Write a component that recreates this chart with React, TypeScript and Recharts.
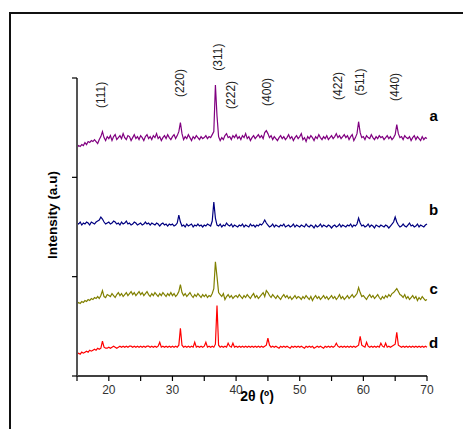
import React from 'react';
import { LineChart, Line, XAxis, YAxis, ReferenceDot } from 'recharts';

// 2θ grid (deg), 0.25 step
const twoTheta = [
  15, 15.25, 15.5, 15.75, 16, 16.25, 16.5, 16.75, 17, 17.25, 17.5, 17.75, 18, 18.25, 18.5, 18.75, 19, 19.25, 19.5, 19.75,
  20, 20.25, 20.5, 20.75, 21, 21.25, 21.5, 21.75, 22, 22.25, 22.5, 22.75, 23, 23.25, 23.5, 23.75, 24, 24.25, 24.5, 24.75,
  25, 25.25, 25.5, 25.75, 26, 26.25, 26.5, 26.75, 27, 27.25, 27.5, 27.75, 28, 28.25, 28.5, 28.75, 29, 29.25, 29.5, 29.75,
  30, 30.25, 30.5, 30.75, 31, 31.25, 31.5, 31.75, 32, 32.25, 32.5, 32.75, 33, 33.25, 33.5, 33.75, 34, 34.25, 34.5, 34.75,
  35, 35.25, 35.5, 35.75, 36, 36.25, 36.5, 36.75, 37, 37.25, 37.5, 37.75, 38, 38.25, 38.5, 38.75, 39, 39.25, 39.5, 39.75,
  40, 40.25, 40.5, 40.75, 41, 41.25, 41.5, 41.75, 42, 42.25, 42.5, 42.75, 43, 43.25, 43.5, 43.75, 44, 44.25, 44.5, 44.75,
  45, 45.25, 45.5, 45.75, 46, 46.25, 46.5, 46.75, 47, 47.25, 47.5, 47.75, 48, 48.25, 48.5, 48.75, 49, 49.25, 49.5, 49.75,
  50, 50.25, 50.5, 50.75, 51, 51.25, 51.5, 51.75, 52, 52.25, 52.5, 52.75, 53, 53.25, 53.5, 53.75, 54, 54.25, 54.5, 54.75,
  55, 55.25, 55.5, 55.75, 56, 56.25, 56.5, 56.75, 57, 57.25, 57.5, 57.75, 58, 58.25, 58.5, 58.75, 59, 59.25, 59.5, 59.75,
  60, 60.25, 60.5, 60.75, 61, 61.25, 61.5, 61.75, 62, 62.25, 62.5, 62.75, 63, 63.25, 63.5, 63.75, 64, 64.25, 64.5, 64.75,
  65, 65.25, 65.5, 65.75, 66, 66.25, 66.5, 66.75, 67, 67.25, 67.5, 67.75, 68, 68.25, 68.5, 68.75, 69, 69.25, 69.5, 69.75,
  70,
];

// stacked intensities (offset, arbitrary units)
const sampleA = [
  230, 232, 231, 233, 232, 235, 233, 236, 235, 237, 236, 238, 236, 234, 238, 241, 246, 240, 237, 241,
  239, 242, 237, 241, 243, 238, 240, 242, 239, 244, 240, 238, 242, 241, 237, 240, 243, 239, 241, 238,
  242, 240, 237, 241, 243, 239, 241, 238, 242, 240, 244, 239, 241, 237, 240, 242, 239, 243, 240, 238,
  241, 243, 239, 242, 246, 255, 244, 238, 241, 239, 243, 240, 237, 241, 239, 242, 240, 238, 241, 239,
  240, 242, 239, 241, 240, 243, 246, 293, 262, 241, 237, 240, 238, 242, 244, 240, 241, 238, 242, 240,
  243, 239, 241, 238, 242, 240, 244, 239, 241, 237, 240, 242, 239, 241, 243, 240, 242, 239, 245, 247,
  244, 240, 242, 238, 241, 239, 237, 240, 242, 239, 241, 238, 240, 243, 239, 241, 237, 240, 242, 239,
  241, 244, 238, 240, 236, 241, 239, 242, 240, 237, 241, 239, 243, 240, 238, 241, 239, 242, 238, 240,
  242, 239, 241, 244, 240, 242, 239, 241, 243, 240, 242, 238, 241, 243, 237, 240, 244, 256, 245, 240,
  241, 238, 242, 240, 239, 243, 240, 238, 241, 239, 242, 240, 241, 238, 240, 242, 239, 241, 238, 240,
  243, 253, 244, 240, 241, 238, 242, 240, 239, 241, 237, 240, 242, 238, 241, 239, 237, 241, 238, 240,
  239,
];

const sampleB = [
  154, 153, 155, 152, 154, 153, 155, 154, 152, 155, 154, 153, 155, 156, 157, 160, 158, 155, 153, 154,
  155, 153, 154, 156, 155, 153, 154, 152, 155, 153, 154, 156, 153, 154, 152, 153, 155, 154, 152, 153,
  154, 152, 153, 155, 153, 154, 152, 154, 153, 152, 154, 153, 151, 153, 154, 152, 153, 151, 153, 152,
  153, 151, 152, 154, 162, 155, 151, 152, 150, 153, 151, 152, 153, 150, 152, 151, 153, 151, 152, 150,
  152, 151, 153, 152, 151, 156, 175, 159, 152, 151, 153, 150, 152, 151, 154, 152, 151, 153, 150, 152,
  151, 150, 152, 151, 153, 150, 152, 151, 150, 153, 151, 152, 150, 152, 151, 153, 152, 154, 157, 154,
  152, 150, 151, 153, 150, 152, 151, 150, 152, 151, 153, 150, 151, 152, 150, 151, 153, 150, 152, 151,
  150, 152, 151, 150, 153, 151, 150, 152, 151, 149, 152, 150, 151, 153, 150, 152, 151, 150, 152, 151,
  149, 151, 152, 150, 151, 153, 150, 152, 151, 150, 152, 151, 153, 150, 152, 151, 153, 159, 154, 151,
  152, 150, 151, 153, 150, 152, 151, 149, 152, 151, 150, 152, 151, 150, 152, 151, 149, 151, 153, 155,
  160, 155, 152, 150, 151, 153, 151, 150, 152, 154, 151, 152, 150, 151, 153, 150, 152, 151, 150, 152,
  153,
];

const sampleC = [
  72, 74, 73, 75, 74, 76, 75, 77, 76, 78, 77, 79, 78, 80, 78, 81, 86, 80, 79, 82,
  81, 80, 83, 81, 79, 82, 84, 81, 83, 80, 82, 84, 81, 83, 85, 82, 84, 81, 83, 85,
  82, 84, 81, 83, 85, 82, 80, 83, 81, 84, 82, 80, 83, 81, 84, 82, 80, 83, 81, 84,
  81, 83, 80, 82, 85, 92, 84, 81, 83, 80, 82, 84, 81, 79, 82, 80, 83, 81, 79, 82,
  80, 82, 79, 81, 80, 83, 88, 115, 100, 84, 82, 80, 83, 77, 80, 82, 79, 81, 78, 80,
  81, 79, 82, 80, 78, 81, 79, 82, 80, 78, 81, 83, 79, 81, 78, 80, 82, 84, 80, 86,
  84, 81, 79, 82, 80, 78, 81, 79, 77, 80, 82, 79, 81, 78, 80, 77, 79, 81, 78, 80,
  79, 77, 80, 78, 81, 79, 77, 80, 76, 79, 81, 78, 80, 77, 79, 81, 78, 80, 77, 79,
  81, 78, 80, 77, 79, 82, 78, 80, 77, 79, 81, 78, 80, 82, 79, 81, 83, 89, 84, 80,
  81, 79, 77, 80, 82, 79, 81, 78, 80, 82, 79, 77, 80, 78, 81, 79, 82, 80, 83, 84,
  86, 88, 85, 82, 81, 79, 82, 78, 80, 77, 79, 81, 78, 80, 76, 79, 77, 80, 78, 76,
  77,
];

const sampleD = [
  22, 23, 22, 24, 23, 24, 25, 24, 26, 25, 26, 27, 26, 28, 27, 28, 35, 29, 28, 28,
  29, 28, 29, 30, 29, 28, 29, 30, 29, 30, 29, 30, 29, 30, 30, 29, 30, 29, 30, 29,
  30, 29, 30, 29, 30, 30, 29, 30, 29, 30, 29, 30, 34, 29, 30, 29, 30, 29, 30, 29,
  30, 29, 30, 29, 31, 48, 31, 29, 30, 29, 30, 29, 30, 29, 34, 29, 30, 29, 30, 29,
  30, 34, 29, 30, 29, 30, 29, 32, 71, 31, 29, 30, 29, 30, 29, 33, 30, 29, 33, 29,
  30, 29, 30, 29, 30, 29, 30, 29, 30, 29, 30, 29, 30, 29, 30, 29, 30, 29, 30, 31,
  38, 31, 29, 30, 29, 30, 29, 28, 30, 29, 30, 29, 30, 29, 28, 30, 29, 30, 29, 30,
  29, 30, 29, 28, 30, 29, 30, 29, 30, 28, 29, 30, 29, 30, 29, 28, 30, 29, 30, 29,
  30, 29, 30, 33, 30, 29, 30, 29, 30, 29, 30, 29, 30, 29, 30, 29, 30, 31, 40, 31,
  30, 29, 34, 30, 29, 30, 29, 30, 29, 30, 29, 33, 30, 29, 33, 29, 30, 29, 30, 31,
  32, 44, 31, 30, 29, 30, 29, 30, 29, 30, 29, 30, 29, 30, 29, 30, 29, 30, 29, 30,
  29,
];

// hkl labels above the peaks
const peakNames = ['(111)', '(220)', '(311)', '(222)', '(400)', '(422)', '(511)', '(440)'];
const peakNameX = [18.8, 31.2, 37.2, 39.2, 44.8, 56.0, 59.4, 64.9];
const peakNameY = [283, 295, 321, 283, 286, 292, 296, 291];

// trace letters at the right
const traceNames = ['a', 'b', 'c', 'd'];
const traceNameY = [262, 168, 88, 34];

const xTicks = [15, 20, 25, 30, 35, 40, 45, 50, 55, 60, 65, 70];
const yTicks = [0, 100, 200, 300];

const data = twoTheta.map((x, i) => ({
  x,
  a: sampleA[i],
  b: sampleB[i],
  c: sampleC[i],
  d: sampleD[i],
}));

const font = 'Arial, "Liberation Sans", sans-serif';

export default function App() {
  return (
    <div style={{ position: 'fixed', left: 0, top: 0, width: 463, height: 429, overflow: 'hidden', background: '#fff' }}>
      {/* frame, cropped on the right and bottom */}
      <div style={{ position: 'absolute', left: 9, top: 12, width: 480, height: 440, borderLeft: '2px solid #111', borderTop: '2px solid #111' }} />

      <div style={{ position: 'absolute', left: 0, top: 0 }}>
        <LineChart width={463} height={429} data={data} margin={{ top: 78, right: 36, bottom: 23, left: 17 }}>
          <XAxis
            type="number"
            dataKey="x"
            domain={[15, 70]}
            ticks={xTicks}
            tickFormatter={(v) => (v % 10 === 0 ? String(v) : '')}
            tickSize={5}
            tickMargin={4}
            height={30}
            axisLine={{ stroke: '#000', strokeWidth: 1.3 }}
            tickLine={{ stroke: '#000', strokeWidth: 1.2 }}
            tick={{ fill: '#333', fontSize: 12, fontFamily: font }}
          />
          <YAxis
            type="number"
            domain={[0, 300]}
            ticks={yTicks}
            width={60}
            tickSize={5}
            tick={() => <g />}
            axisLine={{ stroke: '#555', strokeWidth: 2 }}
            tickLine={{ stroke: '#000', strokeWidth: 1.2 }}
          />

          <Line type="linear" dataKey="a" stroke="#800080" strokeWidth={1.2} dot={false} isAnimationActive={false} />
          <Line type="linear" dataKey="b" stroke="#000080" strokeWidth={1.2} dot={false} isAnimationActive={false} />
          <Line type="linear" dataKey="c" stroke="#808000" strokeWidth={1.2} dot={false} isAnimationActive={false} />
          <Line type="linear" dataKey="d" stroke="#ff0000" strokeWidth={1.2} dot={false} isAnimationActive={false} />

          {peakNames.map((name, i) => (
            <ReferenceDot
              key={name}
              x={peakNameX[i]}
              y={peakNameY[i]}
              ifOverflow="visible"
              shape={(p: any) => (
                <text
                  x={p.cx}
                  y={p.cy}
                  transform={`rotate(-90 ${p.cx} ${p.cy})`}
                  textAnchor="middle"
                  dominantBaseline="central"
                  fill="#222"
                  fontSize={12}
                  fontFamily={font}
                >
                  {name}
                </text>
              )}
            />
          ))}

          {traceNames.map((name, i) => (
            <ReferenceDot
              key={name}
              x={71.05}
              y={traceNameY[i]}
              ifOverflow="visible"
              shape={(p: any) => (
                <text
                  x={p.cx}
                  y={p.cy}
                  textAnchor="middle"
                  dominantBaseline="central"
                  fill="#000"
                  fontSize={15}
                  fontWeight="bold"
                  fontFamily={font}
                >
                  {name}
                </text>
              )}
            />
          ))}
        </LineChart>
      </div>

      {/* axis titles */}
      <div style={{ position: 'absolute', left: 257, top: 396, transform: 'translate(-50%, -50%)', fontFamily: font, fontWeight: 'bold', fontSize: 14, color: '#000', whiteSpace: 'nowrap' }}>
        2θ (º)
      </div>
      <div style={{ position: 'absolute', left: 52, top: 215, transform: 'translate(-50%, -50%) rotate(-90deg)', fontFamily: font, fontWeight: 'bold', fontSize: 13.5, color: '#000', whiteSpace: 'nowrap' }}>
        Intensity (a.u)
      </div>
    </div>
  );
}
